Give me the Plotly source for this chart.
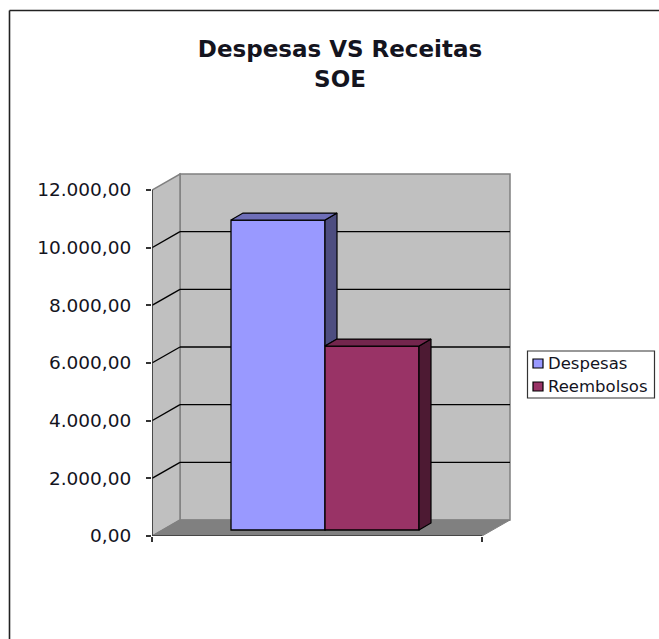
import plotly.graph_objects as go

series_names = ["Despesas", "Reembolsos"]
series_values = [10750, 6380]
front_colors = ["#9999FF", "#993366"]
side_colors = ["#4D4D80", "#4D1A33"]
top_colors = ["#6E6EB8", "#73264D"]
tick_values = [0, 2000, 4000, 6000, 8000, 10000, 12000]
tick_labels = ["0,00", "2.000,00", "4.000,00", "6.000,00", "8.000,00", "10.000,00", "12.000,00"]

W, H = 659, 639
L, R, T, B = 152, 515, 170, 536
PX_X = 1 / 330            # x units per pixel: one category is 330 px wide
PX_Y = 12000 / 346        # y units per pixel
WALL_DX, WALL_DY = 28 * PX_X, 16 * PX_Y
BAR_OFF_DX, BAR_OFF_DY = 8 * PX_X, 6 * PX_Y
BAR_DX, BAR_DY = 12 * PX_X, 7 * PX_Y
BAR_W = 94 * PX_X
FONT = "DejaVu Sans"
INK = "#14141E"
GRAY = "#808080"
WALL = "#C0C0C0"


def paper_x(px):
    return (px - L) / (R - L)


def paper_y(py):
    return (B - py) / (B - T)


fig = go.Figure()


def line(x0, y0, x1, y1, color="black", width=1.3, layer="below", ref="data"):
    xr, yr = ("x", "y") if ref == "data" else ("paper", "paper")
    fig.add_shape(type="line", x0=x0, y0=y0, x1=x1, y1=y1, xref=xr, yref=yr,
                  layer=layer, line=dict(color=color, width=width))


def poly(points, fill, edge=None, width=1, layer="below"):
    path = "M" + "L".join(f"{x},{y}" for x, y in points) + "Z"
    fig.add_shape(type="path", path=path, xref="x", yref="y", layer=layer,
                  fillcolor=fill, line=dict(color=edge or fill, width=width))


top_val = tick_values[-1]
# back wall, side wall, floor
poly([(WALL_DX, WALL_DY), (1 + WALL_DX, WALL_DY), (1 + WALL_DX, top_val + WALL_DY), (WALL_DX, top_val + WALL_DY)],
     WALL, GRAY, 1.5)
poly([(0, 0), (WALL_DX, WALL_DY), (WALL_DX, top_val + WALL_DY), (0, top_val)], WALL, GRAY, 1.5)
poly([(0, 0), (1, 0), (1 + WALL_DX, WALL_DY), (WALL_DX, WALL_DY)], GRAY, GRAY, 1)
# gridlines
for v in tick_values[1:-1]:
    line(0, v, WALL_DX, v + WALL_DY)
    line(WALL_DX, v + WALL_DY, 1 + WALL_DX, v + WALL_DY)
# front axes
line(0, 0, 0, top_val, color="#333333", width=1.5)
line(0, 0, 1, 0, color="#333333", width=1.5)

# fronts of the bars
centers = []
for i, (name, val, col) in enumerate(zip(series_names, series_values, front_colors)):
    c = 0.5 + BAR_OFF_DX + (i - 0.5) * BAR_W
    centers.append(c)
    fig.add_trace(go.Bar(x=[c], y=[val], base=[BAR_OFF_DY], width=[BAR_W], name=name,
                         marker=dict(color=col, line=dict(color="black", width=1.3)),
                         showlegend=False))

# side and top faces
for i, val in enumerate(series_values):
    x0 = centers[i] - BAR_W / 2
    x1 = centers[i] + BAR_W / 2
    top = val + BAR_OFF_DY
    low = BAR_OFF_DY
    if i + 1 < len(series_values):
        low = series_values[i + 1] + BAR_OFF_DY
    fig.add_trace(go.Scatter(x=[x1, x1 + BAR_DX, x1 + BAR_DX, x1, x1],
                             y=[top, top + BAR_DY, low + BAR_DY, low, top],
                             mode="lines", fill="toself", fillcolor=side_colors[i],
                             line=dict(color="black", width=1.2), hoverinfo="skip", showlegend=False))
    fig.add_trace(go.Scatter(x=[x0, x0 + BAR_DX, x1 + BAR_DX, x1, x0],
                             y=[top, top + BAR_DY, top + BAR_DY, top, top],
                             mode="lines", fill="toself", fillcolor=top_colors[i],
                             line=dict(color="black", width=1.2), hoverinfo="skip", showlegend=False))

# chart frame (top and left edges are the ones in view)
line(paper_x(9.5), paper_y(10.5), paper_x(W + 2), paper_y(10.5), color="#222222", width=1.6, layer="above", ref="paper")
line(paper_x(9.5), paper_y(10.5), paper_x(9.5), paper_y(H + 2), color="#222222", width=1.6, layer="above", ref="paper")

# legend
fig.add_shape(type="rect", xref="paper", yref="paper", x0=paper_x(527.5), x1=paper_x(654.5),
              y0=paper_y(398), y1=paper_y(351), fillcolor="white", line=dict(color="#333333", width=1.2), layer="above")
for i, name in enumerate(series_names):
    cy = 363.5 + i * 23
    fig.add_shape(type="rect", xref="paper", yref="paper", x0=paper_x(533), x1=paper_x(543),
                  y0=paper_y(cy + 4.5), y1=paper_y(cy - 4.5), fillcolor=front_colors[i],
                  line=dict(color="black", width=1.2), layer="above")
    fig.add_annotation(x=paper_x(547), y=paper_y(cy), xref="paper", yref="paper", text=name, showarrow=False,
                       xanchor="left", yanchor="middle", borderpad=0,
                       font=dict(family=FONT, size=16.5, color=INK))

fig.update_layout(
    width=W, height=H, autosize=False,
    margin=dict(l=L, r=W - R, t=T, b=H - B, pad=0),
    paper_bgcolor="white", plot_bgcolor="white",
    showlegend=False, barmode="overlay",
    title=dict(text="<b>Despesas VS Receitas<br>SOE</b>", x=340 / W, xanchor="center",
               y=1 - 57 / H, yanchor="top",
               font=dict(family=FONT, size=23, color=INK)),
    xaxis=dict(range=[0, (R - L) * PX_X], showgrid=False, zeroline=False, showline=False,
               tickvals=[0, 1], ticktext=["", ""], ticks="outside", ticklen=5, tickcolor="#333333", tickwidth=1.5),
    yaxis=dict(range=[0, (B - T) * PX_Y], showgrid=False, zeroline=False, showline=False,
               tickvals=tick_values, ticktext=tick_labels, ticks="outside", ticklen=5,
               tickcolor="#333333", tickwidth=1.5, ticklabelstandoff=11,
               tickfont=dict(family=FONT, size=18.5, color=INK)),
)

fig.write_html("out.html", config={"displayModeBar": False},
               post_script="document.body.style.margin='0';")
